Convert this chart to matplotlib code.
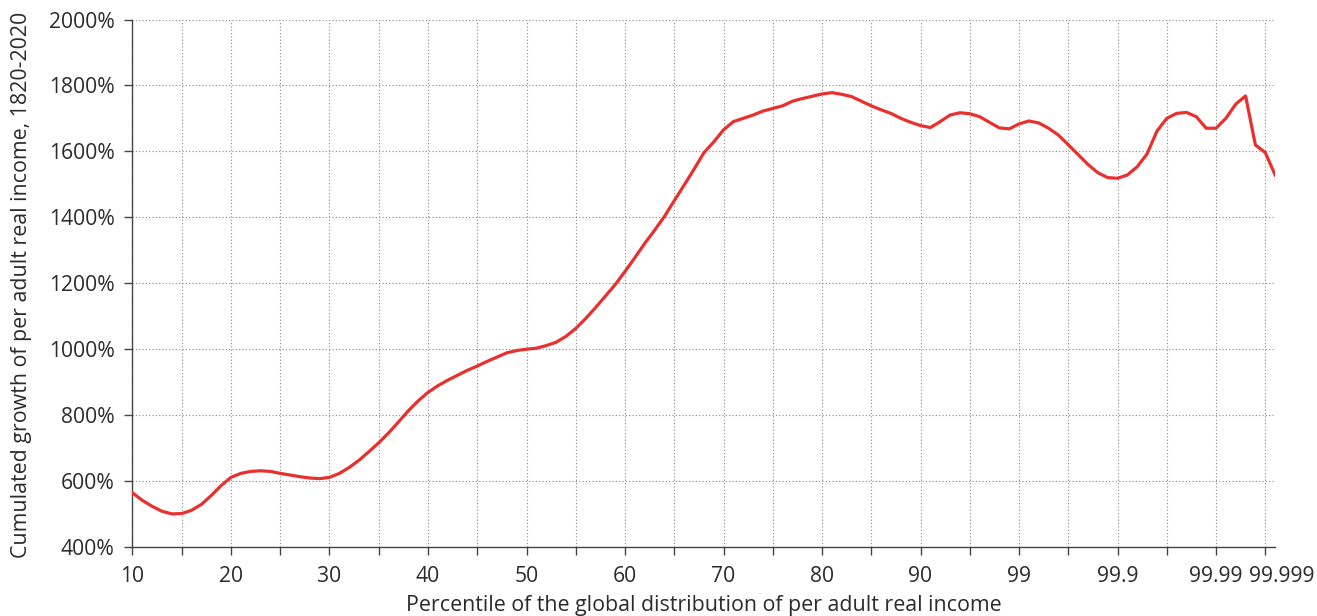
"""Cumulated growth of per adult real income by global percentile, 1820-2020."""

import matplotlib.pyplot as plt
from matplotlib.transforms import ScaledTranslation

# position on the (stretched) percentile axis: 10..90 linear, then each
# further "nine" (99, 99.9, 99.99, 99.999) gets its own block
x_pos = list(range(10, 127))
growth = [
    563, 540, 522, 507, 499, 500, 510, 528, 555, 585,          # 10-19
    610, 622, 628, 630, 628, 622, 617, 612, 608, 606,          # 20-29
    610, 622, 640, 662, 688, 715, 745, 778, 812, 842,          # 30-39
    868, 888, 905, 920, 935, 948, 962, 975, 988, 995,          # 40-49
    999, 1002, 1010, 1020, 1038, 1062, 1092, 1125, 1160, 1195,  # 50-59
    1235, 1277, 1320, 1360, 1402, 1450, 1497, 1545, 1595, 1628,  # 60-69
    1665, 1690, 1700, 1710, 1722, 1730, 1738, 1752, 1760, 1767,  # 70-79
    1774, 1778, 1773, 1766, 1752, 1738, 1726, 1715, 1700, 1688,  # 80-89
    1678, 1672, 1690, 1710, 1717, 1714, 1705, 1688, 1671, 1668,  # 90-99
    1683, 1692, 1686, 1670, 1649, 1620, 1590, 1560, 1535, 1520,  # 100-109
    1518, 1528, 1553, 1592, 1661, 1700, 1715, 1718, 1705, 1670,  # 110-119
    1670, 1700, 1743, 1768, 1619, 1596, 1528,                    # 120-126
]

tick_pos = [10, 20, 30, 40, 50, 60, 70, 80, 90, 100, 110, 120, 125]
tick_labels = ["10", "20", "30", "40", "50", "60", "70", "80", "90",
               "99", "99.9", "99.99", "99.999"]
y_ticks = list(range(400, 2001, 200))

TEXT = "#2b2b2b"
plt.rcParams["font.family"] = ["Open Sans", "DejaVu Sans"]

fig = plt.figure(figsize=(13.17, 6.16), dpi=100)
ax = fig.add_axes([0.1006, 0.1128, 0.8676, 0.8555])

ax.plot(x_pos, growth, color="#E8302F", linewidth=2.3, solid_joinstyle="round",
        zorder=3)

ax.set_xlim(10, 126)
ax.set_ylim(400, 2000)
ax.set_xticks(tick_pos)
ax.set_xticks([p for p in range(15, 126, 5) if p not in tick_pos], minor=True)
ax.set_xticklabels(tick_labels)
ax.set_yticks(y_ticks)
ax.set_yticklabels([f"{v}%" for v in y_ticks])

for side in ("top", "right"):
    ax.spines[side].set_visible(False)
for side in ("left", "bottom"):
    ax.spines[side].set_color("#444444")
    ax.spines[side].set_linewidth(1.0)

ax.tick_params(which="both", direction="out", length=5.8, width=1.0,
               color="#444444", labelcolor=TEXT, labelsize=15.2)
ax.tick_params(axis="x", which="major", pad=8)
ax.tick_params(axis="y", pad=7)
ax.grid(True, which="both", linestyle=(0, (1, 2)), color="#888888",
        linewidth=0.8)
ax.set_axisbelow(True)

# last label sits a bit to the right so it does not collide with 99.99
last = ax.get_xticklabels()[-1]
last.set_transform(last.get_transform()
                   + ScaledTranslation(16 / 100, 0, fig.dpi_scale_trans))

ax.set_xlabel("Percentile of the global distribution of per adult real income",
              fontsize=15.4, color=TEXT, va="center")
ax.xaxis.set_label_coords(0.5, -0.111)
ax.set_ylabel("Cumulated growth of per adult real income, 1820-2020",
              fontsize=15.4, color=TEXT, va="center")
ax.yaxis.set_label_coords(-0.097, 0.497)

fig.savefig("out.png", dpi=100)
plt.close(fig)
